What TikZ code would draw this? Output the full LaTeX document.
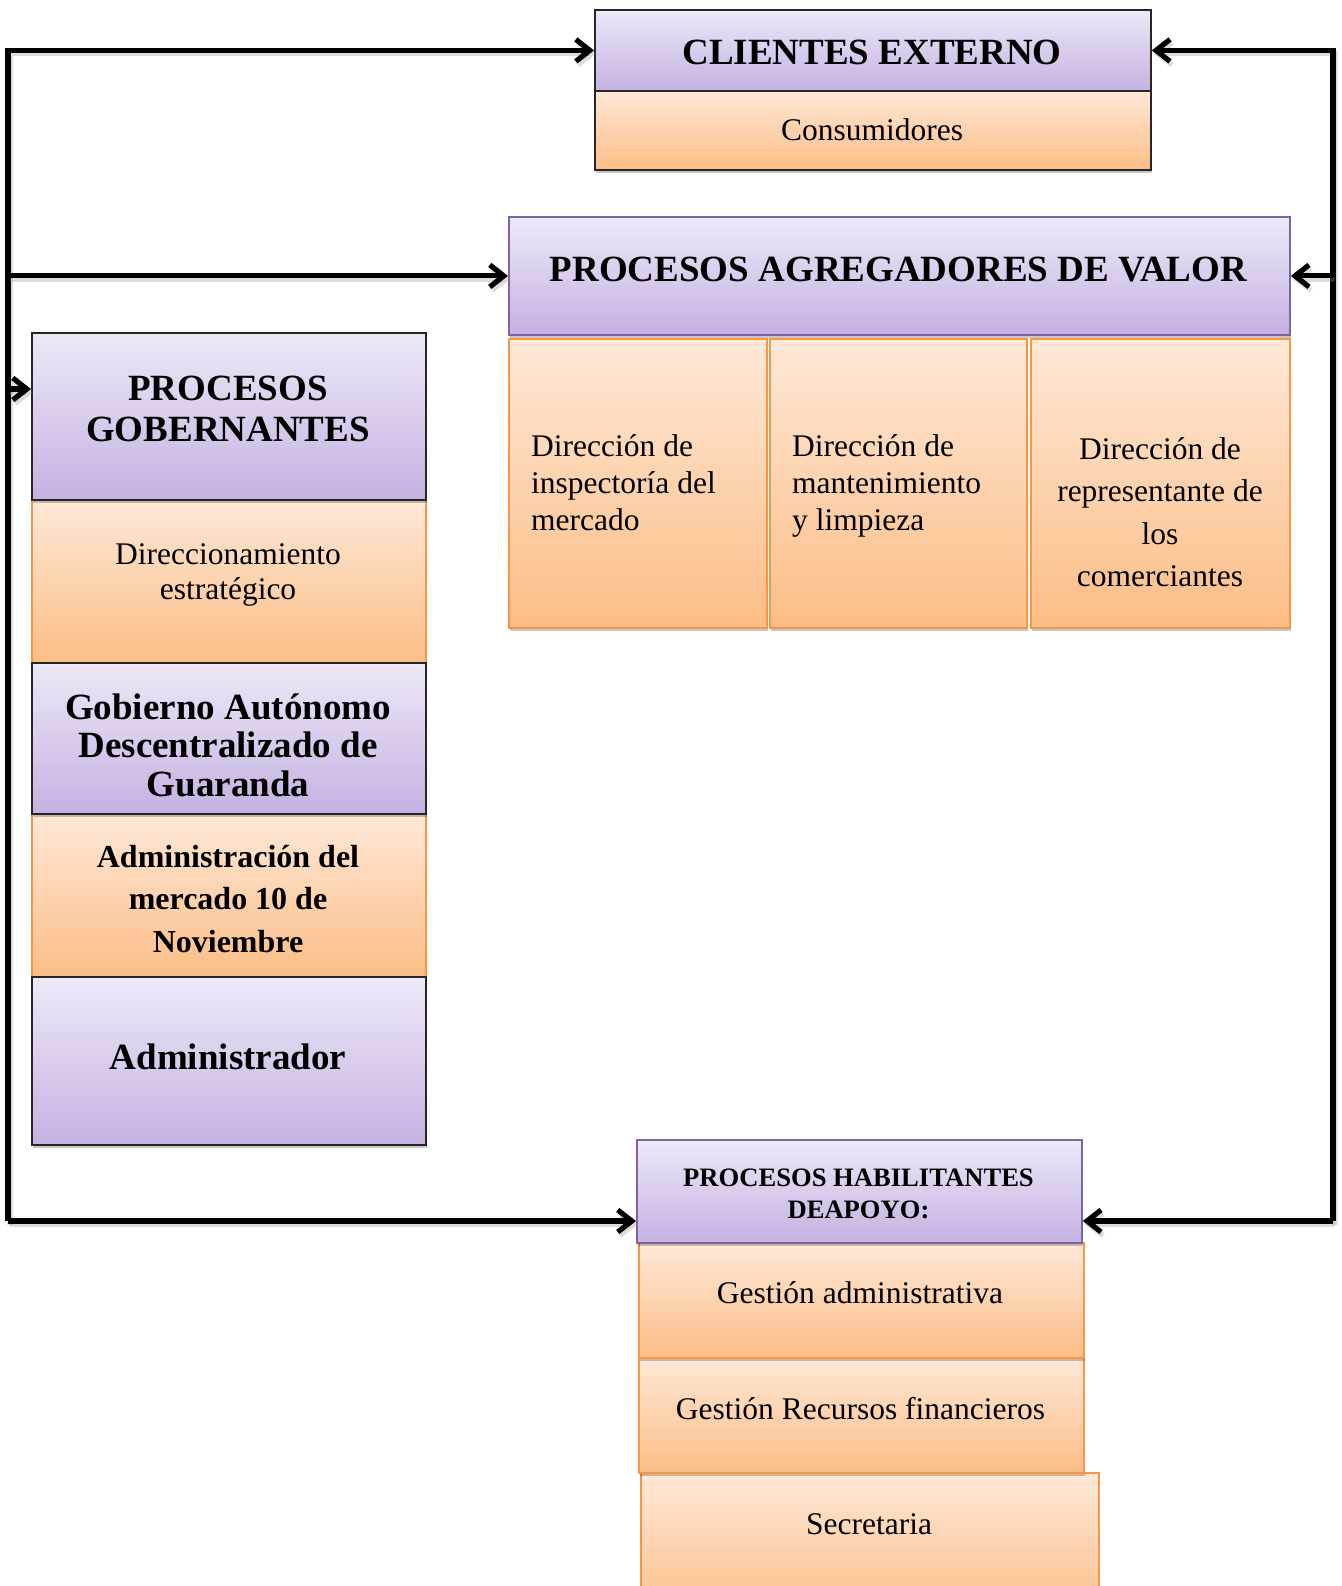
\documentclass[tikz,border=0pt]{standalone}
\usepackage{fontspec}
\setmainfont{Liberation Serif}
\usetikzlibrary{arrows.meta,shadows,calc}

\definecolor{lavTop}{HTML}{EEE8F7}
\definecolor{lavBot}{HTML}{C5B1E2}
\definecolor{lavLine}{HTML}{8064A2}
\definecolor{orgTop}{HTML}{FEE8D7}
\definecolor{orgBot}{HTML}{FBBD86}
\definecolor{orgLine}{HTML}{F79646}
\definecolor{darkLine}{HTML}{262626}

\tikzset{
  boxbase/.style={rectangle, anchor=north west, inner sep=0pt, line width=1.8pt,
    drop shadow={shadow xshift=1.5pt, shadow yshift=-3.5pt, opacity=0.22, fill=black}},
  lav/.style={boxbase, top color=lavTop, bottom color=lavBot},
  org/.style={boxbase, top color=orgTop, bottom color=orgBot},
  box size/.style 2 args={minimum width=#1pt, minimum height=#2pt},
  big/.style={font=\fontsize{37}{40.5}\selectfont\bfseries, align=center, inner sep=0pt},
  body/.style={font=\fontsize{31.5}{37}\selectfont, inner sep=0pt},
  tipshape/.style={-{Straight Barb[length=14pt,width=22pt]}},
  arr/.style={line width=5.2pt, tipshape,
    preaction={draw=black!45, opacity=0.3, line width=5.2pt, tipshape,
      transform canvas={shift={(2pt,-3.5pt)}}}},
}

\begin{document}
\begin{tikzpicture}[x=1pt, y=-1pt]
  \useasboundingbox (0,0) rectangle (1341,1586);
  \fill[white] (0,0) rectangle (1341,1586);
  \clip (0,0) rectangle (1341,1586);

  % external clients
  \node[lav, draw=darkLine, box size={556}{81}] (cli) at (594,9) {};
  \node[org, draw=darkLine, box size={556}{79}] (con) at (594,90) {};

  % value-adding processes
  \node[lav, draw=lavLine, box size={781}{118}] (agr) at (508,216) {};
  \node[org, draw=orgLine, box size={258}{289}] (va1) at (508,338) {};
  \node[org, draw=orgLine, box size={257}{289}] (va2) at (769,338) {};
  \node[org, draw=orgLine, box size={259}{289}] (va3) at (1030,338) {};

  % governing column
  \node[org, draw=orgLine, box size={394}{163}] (dir) at (31,499) {};
  \node[org, draw=orgLine, box size={394}{163}] (adm) at (31,813) {};
  \node[lav, draw=darkLine, box size={394}{167}] (gob) at (31,332) {};
  \node[lav, draw=darkLine, box size={394}{151}] (gad) at (31,662) {};
  \node[lav, draw=darkLine, box size={394}{168}] (admr) at (31,976) {};

  % support processes
  \node[org, draw=orgLine, box size={458}{150}] (sec) at (640,1472) {};
  \node[org, draw=orgLine, box size={445}{115}] (rec) at (638,1357) {};
  \node[org, draw=orgLine, box size={445}{115}] (ges) at (638,1242) {};
  \node[lav, draw=lavLine, box size={445}{103}] (hab) at (636,1139) {};

  % texts
  \node[big] (cliT) at (872,52) {CLIENTES EXTERNO};
  \node[body] (conT) at (872,130) {Consumidores};
  \node[big] (agrT) at (898.5,270) {PROCESOS AGREGADORES DE VALOR};
  \node[body, align=left, anchor=west] (va1T) at (531,483) {Dirección de\\inspectoría del\\mercado};
  \node[body, align=left, anchor=west] (va2T) at (792,486) {Dirección de\\mantenimiento\\y limpieza};
  \node[body, align=center, font=\fontsize{31.5}{42.5}\selectfont] (va3T) at (1160,512)
    {Dirección de\\representante de\\los\\comerciantes};
  \node[big] (gobT) at (228,409) {PROCESOS\\GOBERNANTES};
  \node[body, align=center, font=\fontsize{31.5}{35.5}\selectfont] (dirT) at (228,575)
    {Direccionamiento\\estratégico};
  \node[big, font=\fontsize{37}{38.5}\selectfont\bfseries] (gadT) at (228,745)
    {Gobierno Autónomo\\Descentralizado de\\Guaranda};
  \node[body, align=center, font=\fontsize{32}{42.5}\selectfont\bfseries] (admT) at (228,899)
    {Administración del\\mercado 10 de\\Noviembre};
  \node[big] (admrT) at (228,1057) {Administrador};
  \node[inner sep=0pt, align=center, font=\fontsize{26.6}{31.5}\selectfont\bfseries] (habT) at (858.5,1194)
    {PROCESOS HABILITANTES\\DEAPOYO:};
  \node[body] (gesT) at (860,1293) {Gestión administrativa};
  \node[body] (recT) at (860.5,1409) {Gestión Recursos financieros};
  \node[body] (secT) at (869,1524) {Secretaria};

  % spines of the feedback loop
  \coordinate (lspB) at (8,1221);
  \coordinate (rspB) at (1333,1221);
  \coordinate (gobIn) at ($(gob.north west)+(0,57)$);
  \coordinate (habInL) at ($(hab.north west)+(0,82)$);
  \coordinate (habInR) at ($(hab.north east)+(0,82)$);

  \draw[arr] (lspB) |- (cli.west);
  \draw[arr] (lspB |- agr.west) -- (agr.west);
  \draw[arr] (lspB |- gobIn) -- (gobIn);
  \draw[arr] (lspB) -- (habInL);

  \draw[arr] (rspB) |- (cli.east);
  \draw[arr] (rspB |- agr.east) -- (agr.east);
  \draw[arr] (rspB) -- (habInR);
\end{tikzpicture}
\end{document}
